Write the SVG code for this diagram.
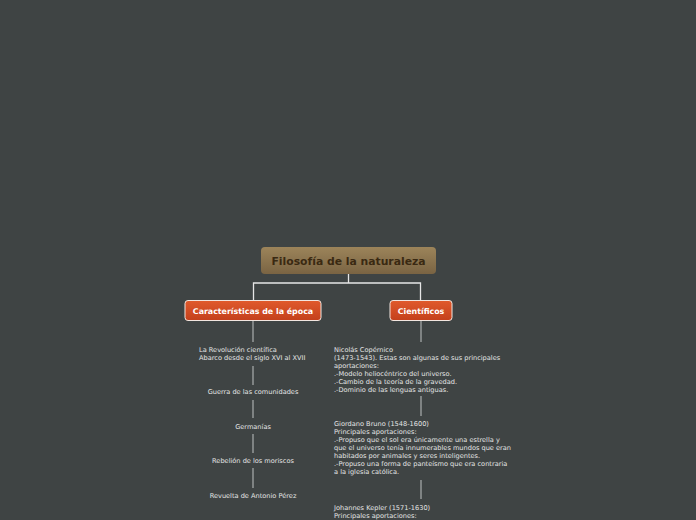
<svg xmlns="http://www.w3.org/2000/svg" width="696" height="520" viewBox="0 0 696 520">
<defs>
<linearGradient id="gRoot" x1="0" y1="0" x2="0" y2="1"><stop offset="0" stop-color="#9c845a"/><stop offset="1" stop-color="#7a6443"/></linearGradient>
<linearGradient id="gNode" x1="0" y1="0" x2="0" y2="1"><stop offset="0" stop-color="#e05a2c"/><stop offset="1" stop-color="#c4401c"/></linearGradient>
</defs>
<style>
.bg{fill:#3f4444}
.ln{stroke:#a9adad;stroke-width:1.2;fill:none}
.lt{stroke:#e6e6e6;stroke-width:1.3;fill:none}
.nd{fill:url(#gNode);stroke:#f2e6e0;stroke-width:1}
.nt{font-family:"DejaVu Sans",sans-serif;font-weight:bold;font-size:7.9px;fill:#ffffff;text-anchor:middle}
.tx{font-family:"DejaVu Sans",sans-serif;font-size:6.6px;fill:#e4e4e4}
.tc{text-anchor:middle}
</style>
<rect class="bg" x="0" y="0" width="696" height="520"/>
<g id="connectors">
<path class="lt" d="M348.5 274V283M253.5 300V283H420.5V300"/>
<path class="ln" d="M253 321V342M253 366V385M253 400V418M253 434V453M253 468V488"/>
<path class="ln" d="M421 321V342M421 396V416M421 480V499"/>
</g>
<g id="root">
<rect x="261" y="247" width="175" height="27" rx="4" fill="url(#gRoot)"/>
<text x="348.5" y="265" font-family="'DejaVu Sans',sans-serif" font-weight="bold" font-size="10.8px" fill="#3a2912" text-anchor="middle">Filosofía de la naturaleza</text>
</g>
<g id="n-caracteristicas">
<rect class="nd" x="185" y="300.5" width="136" height="20" rx="3"/>
<text class="nt" x="253" y="313.5">Características de la época</text>
</g>
<g id="n-cientificos">
<rect class="nd" x="390" y="300.5" width="62" height="20" rx="3"/>
<text class="nt" x="421" y="313.5">Científicos</text>
</g>
<g id="t-revolucion">
<text class="tx" x="199" y="351.5">La Revolución científica</text>
<text class="tx" x="199" y="359.5">Abarco desde el siglo XVI al XVII</text>
</g>
<g id="t-guerra"><text class="tx tc" x="253" y="393.5">Guerra de las comunidades</text></g>
<g id="t-germanias"><text class="tx tc" x="253" y="428.5">Germanías</text></g>
<g id="t-rebelion"><text class="tx tc" x="253" y="462.5">Rebelión de los moriscos</text></g>
<g id="t-revuelta"><text class="tx tc" x="253" y="497.5">Revuelta de Antonio Pérez</text></g>
<g id="t-copernico">
<text class="tx" x="334" y="351.5">Nicolás Copérnico</text>
<text class="tx" x="334" y="359.5">(1473-1543). Estas son algunas de sus principales</text>
<text class="tx" x="334" y="367.5">aportaciones:</text>
<text class="tx" x="334" y="375.5">.-Modelo heliocéntrico del universo.</text>
<text class="tx" x="334" y="383.5">.-Cambio de la teoría de la gravedad.</text>
<text class="tx" x="334" y="391.5">.-Dominio de las lenguas antiguas.</text>
</g>
<g id="t-bruno">
<text class="tx" x="334" y="425.5">Giordano Bruno (1548-1600)</text>
<text class="tx" x="334" y="433.5">Principales aportaciones:</text>
<text class="tx" x="334" y="441.5">.-Propuso que el sol era únicamente una estrella y</text>
<text class="tx" x="334" y="449.5">que el universo tenía innumerables mundos que eran</text>
<text class="tx" x="334" y="457.5">habitados por animales y seres inteligentes.</text>
<text class="tx" x="334" y="465.5">.-Propuso una forma de panteísmo que era contraria</text>
<text class="tx" x="334" y="473.5">a la iglesia católica.</text>
</g>
<g id="t-kepler">
<text class="tx" x="334" y="509.5">Johannes Kepler (1571-1630)</text>
<text class="tx" x="334" y="517.5">Principales aportaciones:</text>
</g>
</svg>
